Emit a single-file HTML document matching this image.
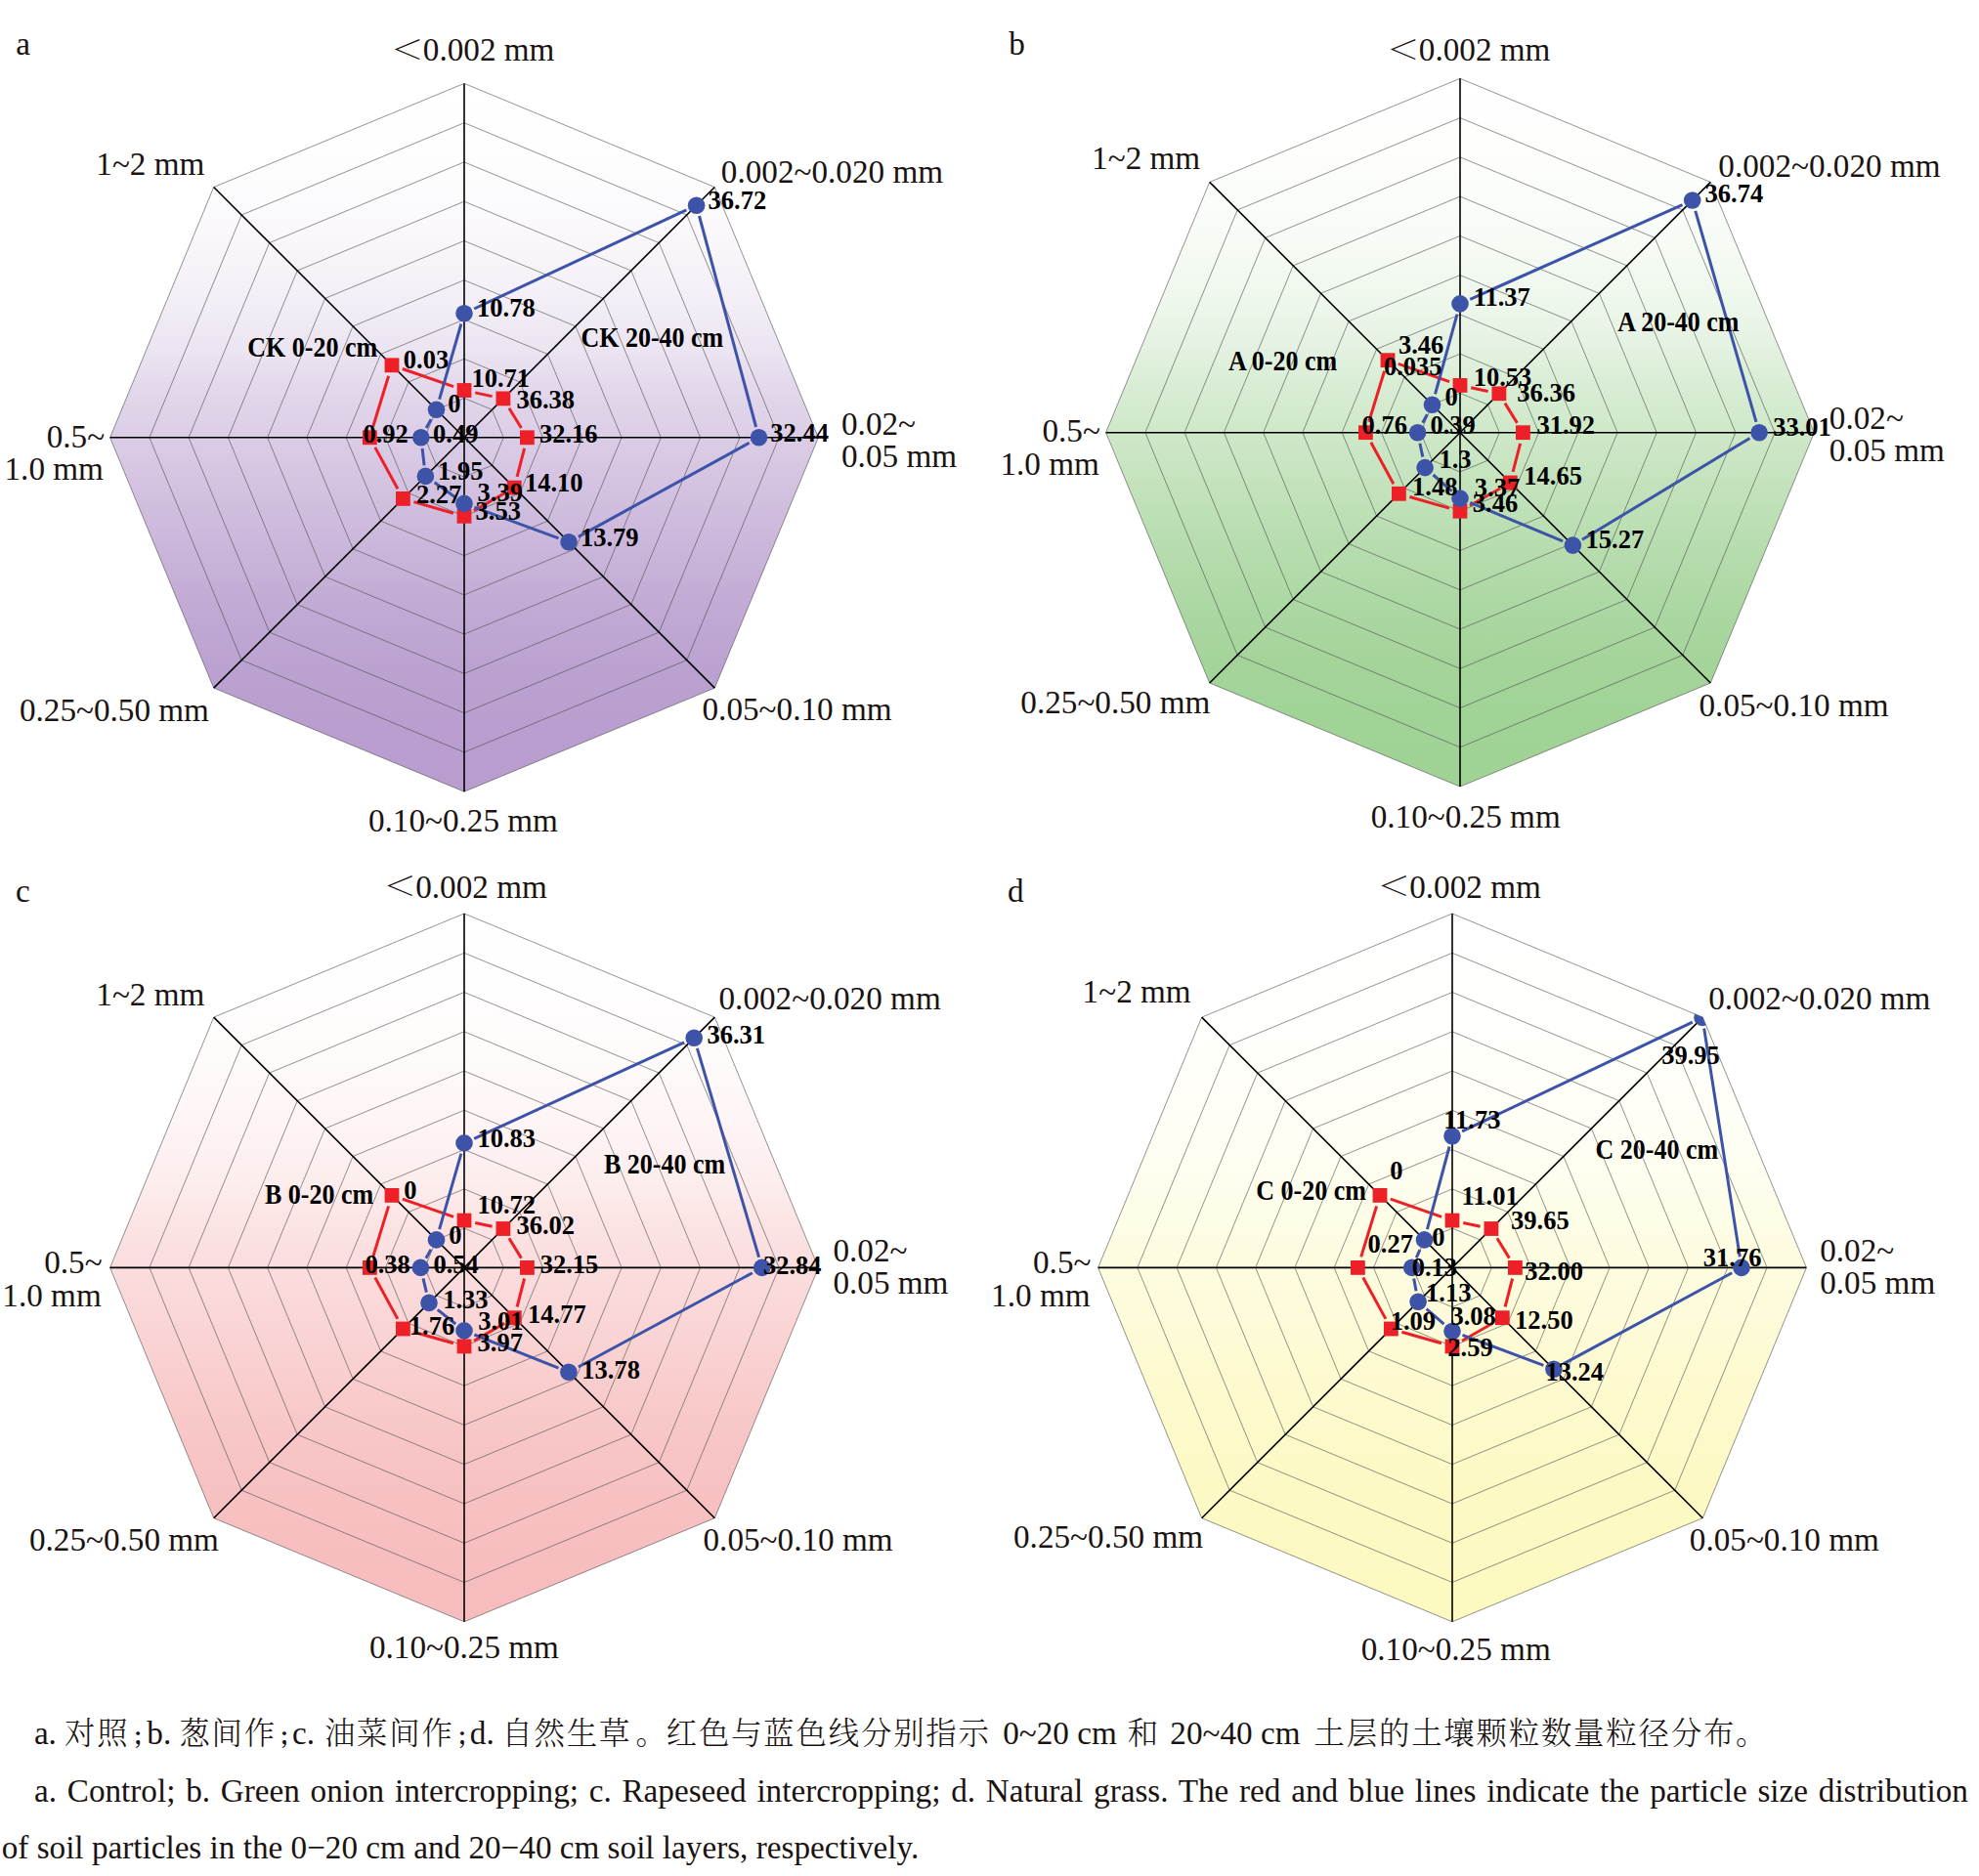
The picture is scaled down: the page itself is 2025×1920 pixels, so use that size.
<!DOCTYPE html>
<html lang="zh"><head><meta charset="utf-8"><title>Soil particle size distribution</title>
<style>
html,body{margin:0;padding:0;background:#fff;}
body{width:2025px;height:1920px;overflow:hidden;}
svg{display:block;}
svg text{font-family:"Liberation Serif","Noto Serif CJK SC",serif;fill:#1a1311;}
svg text[font-weight="bold"]{fill:#000;}
</style></head><body>
<svg width="2025" height="1920" viewBox="0 0 2025 1920">
<defs><linearGradient id="ga" x1="0" y1="0" x2="0" y2="1"><stop offset="0" stop-color="#FFFFFF"/><stop offset="0.1" stop-color="#FEFEFE"/><stop offset="0.21" stop-color="#FAF8FB"/><stop offset="0.3" stop-color="#F4EFF7"/><stop offset="0.38" stop-color="#EBE4F1"/><stop offset="0.435" stop-color="#E2D7EB"/><stop offset="0.5" stop-color="#DBCDE6"/><stop offset="0.57" stop-color="#D3C2E1"/><stop offset="0.655" stop-color="#CAB6DA"/><stop offset="0.74" stop-color="#C1AAD4"/><stop offset="0.82" stop-color="#BCA2D1"/><stop offset="0.9" stop-color="#B99ECF"/><stop offset="1" stop-color="#B89DCE"/></linearGradient>
<clipPath id="ca"><polygon points="475.0,85.4 731.3,191.5 837.4,447.8 731.3,704.1 475.0,810.2 218.7,704.1 112.6,447.8 218.7,191.5"/></clipPath></defs>
<polygon points="475.0,85.4 731.3,191.5 837.4,447.8 731.3,704.1 475.0,810.2 218.7,704.1 112.6,447.8 218.7,191.5" fill="url(#ga)"/>
<polygon points="475.0,407.5 503.5,419.3 515.3,447.8 503.5,476.3 475.0,488.1 446.5,476.3 434.7,447.8 446.5,419.3" fill="none" stroke="#4a4a4a" stroke-width="0.6"/>
<polygon points="475.0,367.3 531.9,390.9 555.5,447.8 531.9,504.7 475.0,528.3 418.1,504.7 394.5,447.8 418.1,390.9" fill="none" stroke="#4a4a4a" stroke-width="0.6"/>
<polygon points="475.0,327.0 560.4,362.4 595.8,447.8 560.4,533.2 475.0,568.6 389.6,533.2 354.2,447.8 389.6,362.4" fill="none" stroke="#4a4a4a" stroke-width="0.6"/>
<polygon points="475.0,286.7 588.9,333.9 636.1,447.8 588.9,561.7 475.0,608.9 361.1,561.7 313.9,447.8 361.1,333.9" fill="none" stroke="#4a4a4a" stroke-width="0.6"/>
<polygon points="475.0,246.5 617.4,305.4 676.3,447.8 617.4,590.2 475.0,649.1 332.6,590.2 273.7,447.8 332.6,305.4" fill="none" stroke="#4a4a4a" stroke-width="0.6"/>
<polygon points="475.0,206.2 645.8,277.0 716.6,447.8 645.8,618.6 475.0,689.4 304.2,618.6 233.4,447.8 304.2,277.0" fill="none" stroke="#4a4a4a" stroke-width="0.6"/>
<polygon points="475.0,165.9 674.3,248.5 756.9,447.8 674.3,647.1 475.0,729.7 275.7,647.1 193.1,447.8 275.7,248.5" fill="none" stroke="#4a4a4a" stroke-width="0.6"/>
<polygon points="475.0,125.7 702.8,220.0 797.1,447.8 702.8,675.6 475.0,769.9 247.2,675.6 152.9,447.8 247.2,220.0" fill="none" stroke="#4a4a4a" stroke-width="0.6"/>
<polygon points="475.0,85.4 731.3,191.5 837.4,447.8 731.3,704.1 475.0,810.2 218.7,704.1 112.6,447.8 218.7,191.5" fill="none" stroke="#4a4a4a" stroke-width="0.6"/>
<line x1="475.0" y1="447.8" x2="475.0" y2="85.4" stroke="#000" stroke-width="1.6"/>
<line x1="475.0" y1="447.8" x2="731.3" y2="191.5" stroke="#000" stroke-width="1.6"/>
<line x1="475.0" y1="447.8" x2="837.4" y2="447.8" stroke="#000" stroke-width="1.6"/>
<line x1="475.0" y1="447.8" x2="731.3" y2="704.1" stroke="#000" stroke-width="1.6"/>
<line x1="475.0" y1="447.8" x2="475.0" y2="810.2" stroke="#000" stroke-width="1.6"/>
<line x1="475.0" y1="447.8" x2="218.7" y2="704.1" stroke="#000" stroke-width="1.6"/>
<line x1="475.0" y1="447.8" x2="112.6" y2="447.8" stroke="#000" stroke-width="1.6"/>
<line x1="475.0" y1="447.8" x2="218.7" y2="191.5" stroke="#000" stroke-width="1.6"/>
<line x1="486.2" y1="401.9" x2="503.6" y2="405.6" stroke="#EC2026" stroke-width="3"/>
<line x1="520.9" y1="417.7" x2="533.4" y2="438.0" stroke="#EC2026" stroke-width="3"/>
<line x1="536.6" y1="458.9" x2="529.1" y2="487.9" stroke="#EC2026" stroke-width="3"/>
<line x1="516.3" y1="504.8" x2="485.0" y2="522.6" stroke="#EC2026" stroke-width="3"/>
<line x1="463.9" y1="525.2" x2="423.4" y2="513.6" stroke="#EC2026" stroke-width="3"/>
<line x1="406.9" y1="500.3" x2="383.8" y2="457.9" stroke="#EC2026" stroke-width="3"/>
<line x1="381.7" y1="436.8" x2="397.6" y2="384.8" stroke="#EC2026" stroke-width="3"/>
<line x1="411.8" y1="377.5" x2="464.1" y2="395.7" stroke="#EC2026" stroke-width="3"/>
<rect x="467.6" y="392.1" width="14.8" height="14.8" fill="#EC2026"/>
<rect x="507.5" y="400.5" width="14.8" height="14.8" fill="#EC2026"/>
<rect x="532.0" y="440.4" width="14.8" height="14.8" fill="#EC2026"/>
<rect x="518.9" y="491.7" width="14.8" height="14.8" fill="#EC2026"/>
<rect x="467.6" y="520.9" width="14.8" height="14.8" fill="#EC2026"/>
<rect x="405.0" y="503.0" width="14.8" height="14.8" fill="#EC2026"/>
<rect x="371.0" y="440.4" width="14.8" height="14.8" fill="#EC2026"/>
<rect x="393.6" y="366.4" width="14.8" height="14.8" fill="#EC2026"/>
<line x1="485.2" y1="316.0" x2="702.4" y2="214.9" stroke="#3C53A8" stroke-width="3"/>
<line x1="715.5" y1="221.0" x2="773.6" y2="437.0" stroke="#3C53A8" stroke-width="3"/>
<line x1="766.7" y1="453.2" x2="591.8" y2="549.4" stroke="#3C53A8" stroke-width="3"/>
<line x1="571.5" y1="550.9" x2="485.5" y2="519.2" stroke="#3C53A8" stroke-width="3"/>
<line x1="465.9" y1="508.9" x2="444.6" y2="493.8" stroke="#3C53A8" stroke-width="3"/>
<line x1="434.1" y1="476.3" x2="432.1" y2="458.9" stroke="#3C53A8" stroke-width="3"/>
<line x1="436.2" y1="438.0" x2="441.1" y2="429.1" stroke="#3C53A8" stroke-width="3"/>
<line x1="449.6" y1="408.6" x2="471.9" y2="331.5" stroke="#3C53A8" stroke-width="3"/>
<g clip-path="url(#ca)">
<circle cx="475.0" cy="320.7" r="8.8" fill="#3C53A8"/>
<circle cx="712.6" cy="210.2" r="8.8" fill="#3C53A8"/>
<circle cx="776.5" cy="447.8" r="8.8" fill="#3C53A8"/>
<circle cx="582.0" cy="554.8" r="8.8" fill="#3C53A8"/>
<circle cx="475.0" cy="515.4" r="8.8" fill="#3C53A8"/>
<circle cx="435.4" cy="487.4" r="8.8" fill="#3C53A8"/>
<circle cx="430.8" cy="447.8" r="8.8" fill="#3C53A8"/>
<circle cx="446.5" cy="419.3" r="8.8" fill="#3C53A8"/>
</g>
<text transform="translate(488.1,324.2) scale(1,1.06)" font-size="26.5" font-weight="bold">10.78</text>
<text transform="translate(412.8,376.7) scale(1,1.06)" font-size="26.5" font-weight="bold">0.03</text>
<text transform="translate(482.5,396.3) scale(1,1.06)" font-size="26.5" font-weight="bold">10.71</text>
<text transform="translate(528.4,417.7) scale(1,1.06)" font-size="26.5" font-weight="bold">36.38</text>
<text transform="translate(458.3,422.2) scale(1,1.06)" font-size="26.5" font-weight="bold">0</text>
<text transform="translate(371.4,452.5) scale(1,1.06)" font-size="26.5" font-weight="bold">0.92</text>
<text transform="translate(443.1,452.5) scale(1,1.06)" font-size="26.5" font-weight="bold">0.49</text>
<text transform="translate(551.9,452.5) scale(1,1.06)" font-size="26.5" font-weight="bold">32.16</text>
<text transform="translate(448.1,490.9) scale(1,1.06)" font-size="26.5" font-weight="bold">1.95</text>
<text transform="translate(537.0,503.0) scale(1,1.06)" font-size="26.5" font-weight="bold">14.10</text>
<text transform="translate(425.9,514.7) scale(1,1.06)" font-size="26.5" font-weight="bold">2.27</text>
<text transform="translate(488.6,513.1) scale(1,1.06)" font-size="26.5" font-weight="bold">3.39</text>
<text transform="translate(486.6,532.3) scale(1,1.06)" font-size="26.5" font-weight="bold">3.53</text>
<text transform="translate(594.0,558.6) scale(1,1.06)" font-size="26.5" font-weight="bold">13.79</text>
<text transform="translate(253.3,364.7) scale(1,1.1)" font-size="26" font-weight="bold">CK 0-20 cm</text>
<text transform="translate(724.6,214.1) scale(1,1.06)" font-size="26.5" font-weight="bold">36.72</text>
<text transform="translate(594.4,355.2) scale(1,1.1)" font-size="26" font-weight="bold">CK 20-40 cm</text>
<text transform="translate(788.3,452.3) scale(1,1.06)" font-size="26.5" font-weight="bold">32.44</text>
<text x="432.8" y="61.9" font-size="33.2">0.002 mm</text>
<text x="737.8" y="186.7" font-size="33.2">0.002~0.020 mm</text>
<text x="861.0" y="445.0" font-size="33.2">0.02~</text>
<text x="861.0" y="477.9" font-size="33.2">0.05 mm</text>
<text x="718.5" y="736.8" font-size="33.2">0.05~0.10 mm</text>
<text x="376.9" y="851.1" font-size="33.2">0.10~0.25 mm</text>
<text x="19.9" y="738.0" font-size="33.2">0.25~0.50 mm</text>
<text x="47.7" y="457.8" font-size="33.2">0.5~</text>
<text x="4.5" y="491.2" font-size="33.2">1.0 mm</text>
<text x="98.3" y="179.0" font-size="33.2">1~2 mm</text>
<text x="16.2" y="56.0" font-size="33.2">a</text>
<text transform="translate(399.8,60.8) scale(1.02,0.83)" font-size="33.2" font-family="'Liberation Serif','Noto Serif CJK SC',serif" font-weight="300">＜</text>
<defs><linearGradient id="gb" x1="0" y1="0" x2="0" y2="1"><stop offset="0" stop-color="#FFFFFF"/><stop offset="0.1" stop-color="#FEFEFD"/><stop offset="0.21" stop-color="#F8FCF7"/><stop offset="0.3" stop-color="#F0F8EE"/><stop offset="0.38" stop-color="#E4F2E1"/><stop offset="0.435" stop-color="#D8EDD4"/><stop offset="0.5" stop-color="#CFE8C9"/><stop offset="0.57" stop-color="#C4E3BD"/><stop offset="0.655" stop-color="#B8DDB0"/><stop offset="0.74" stop-color="#ACD8A3"/><stop offset="0.82" stop-color="#A5D49B"/><stop offset="0.9" stop-color="#A1D397"/><stop offset="1" stop-color="#A0D295"/></linearGradient>
<clipPath id="cb"><polygon points="1494.0,80.3 1750.3,186.4 1856.4,442.7 1750.3,699.0 1494.0,805.1 1237.7,699.0 1131.6,442.7 1237.7,186.4"/></clipPath></defs>
<polygon points="1494.0,80.3 1750.3,186.4 1856.4,442.7 1750.3,699.0 1494.0,805.1 1237.7,699.0 1131.6,442.7 1237.7,186.4" fill="url(#gb)"/>
<polygon points="1494.0,402.4 1522.5,414.2 1534.3,442.7 1522.5,471.2 1494.0,483.0 1465.5,471.2 1453.7,442.7 1465.5,414.2" fill="none" stroke="#4a4a4a" stroke-width="0.6"/>
<polygon points="1494.0,362.2 1550.9,385.8 1574.5,442.7 1550.9,499.6 1494.0,523.2 1437.1,499.6 1413.5,442.7 1437.1,385.8" fill="none" stroke="#4a4a4a" stroke-width="0.6"/>
<polygon points="1494.0,321.9 1579.4,357.3 1614.8,442.7 1579.4,528.1 1494.0,563.5 1408.6,528.1 1373.2,442.7 1408.6,357.3" fill="none" stroke="#4a4a4a" stroke-width="0.6"/>
<polygon points="1494.0,281.6 1607.9,328.8 1655.1,442.7 1607.9,556.6 1494.0,603.8 1380.1,556.6 1332.9,442.7 1380.1,328.8" fill="none" stroke="#4a4a4a" stroke-width="0.6"/>
<polygon points="1494.0,241.4 1636.4,300.3 1695.3,442.7 1636.4,585.1 1494.0,644.0 1351.6,585.1 1292.7,442.7 1351.6,300.3" fill="none" stroke="#4a4a4a" stroke-width="0.6"/>
<polygon points="1494.0,201.1 1664.8,271.9 1735.6,442.7 1664.8,613.5 1494.0,684.3 1323.2,613.5 1252.4,442.7 1323.2,271.9" fill="none" stroke="#4a4a4a" stroke-width="0.6"/>
<polygon points="1494.0,160.8 1693.3,243.4 1775.9,442.7 1693.3,642.0 1494.0,724.6 1294.7,642.0 1212.1,442.7 1294.7,243.4" fill="none" stroke="#4a4a4a" stroke-width="0.6"/>
<polygon points="1494.0,120.6 1721.8,214.9 1816.1,442.7 1721.8,670.5 1494.0,764.8 1266.2,670.5 1171.9,442.7 1266.2,214.9" fill="none" stroke="#4a4a4a" stroke-width="0.6"/>
<polygon points="1494.0,80.3 1750.3,186.4 1856.4,442.7 1750.3,699.0 1494.0,805.1 1237.7,699.0 1131.6,442.7 1237.7,186.4" fill="none" stroke="#4a4a4a" stroke-width="0.6"/>
<line x1="1494.0" y1="442.7" x2="1494.0" y2="80.3" stroke="#000" stroke-width="1.6"/>
<line x1="1494.0" y1="442.7" x2="1750.3" y2="186.4" stroke="#000" stroke-width="1.6"/>
<line x1="1494.0" y1="442.7" x2="1856.4" y2="442.7" stroke="#000" stroke-width="1.6"/>
<line x1="1494.0" y1="442.7" x2="1750.3" y2="699.0" stroke="#000" stroke-width="1.6"/>
<line x1="1494.0" y1="442.7" x2="1494.0" y2="805.1" stroke="#000" stroke-width="1.6"/>
<line x1="1494.0" y1="442.7" x2="1237.7" y2="699.0" stroke="#000" stroke-width="1.6"/>
<line x1="1494.0" y1="442.7" x2="1131.6" y2="442.7" stroke="#000" stroke-width="1.6"/>
<line x1="1494.0" y1="442.7" x2="1237.7" y2="186.4" stroke="#000" stroke-width="1.6"/>
<line x1="1505.2" y1="396.8" x2="1522.6" y2="400.5" stroke="#EC2026" stroke-width="3"/>
<line x1="1539.9" y1="412.6" x2="1552.4" y2="432.9" stroke="#EC2026" stroke-width="3"/>
<line x1="1555.6" y1="453.8" x2="1548.1" y2="482.8" stroke="#EC2026" stroke-width="3"/>
<line x1="1535.3" y1="499.7" x2="1504.0" y2="517.5" stroke="#EC2026" stroke-width="3"/>
<line x1="1482.9" y1="520.1" x2="1442.4" y2="508.5" stroke="#EC2026" stroke-width="3"/>
<line x1="1425.9" y1="495.2" x2="1402.8" y2="452.8" stroke="#EC2026" stroke-width="3"/>
<line x1="1400.7" y1="431.7" x2="1416.6" y2="379.7" stroke="#EC2026" stroke-width="3"/>
<line x1="1430.8" y1="372.4" x2="1483.1" y2="390.6" stroke="#EC2026" stroke-width="3"/>
<rect x="1486.6" y="387.0" width="14.8" height="14.8" fill="#EC2026"/>
<rect x="1526.5" y="395.4" width="14.8" height="14.8" fill="#EC2026"/>
<rect x="1551.0" y="435.3" width="14.8" height="14.8" fill="#EC2026"/>
<rect x="1537.9" y="486.6" width="14.8" height="14.8" fill="#EC2026"/>
<rect x="1486.6" y="515.8" width="14.8" height="14.8" fill="#EC2026"/>
<rect x="1424.0" y="497.9" width="14.8" height="14.8" fill="#EC2026"/>
<rect x="1390.0" y="435.3" width="14.8" height="14.8" fill="#EC2026"/>
<rect x="1412.6" y="361.3" width="14.8" height="14.8" fill="#EC2026"/>
<line x1="1504.2" y1="306.3" x2="1721.5" y2="209.6" stroke="#3C53A8" stroke-width="3"/>
<line x1="1734.8" y1="215.8" x2="1797.0" y2="431.9" stroke="#3C53A8" stroke-width="3"/>
<line x1="1790.5" y1="448.5" x2="1619.0" y2="552.3" stroke="#3C53A8" stroke-width="3"/>
<line x1="1599.1" y1="553.8" x2="1504.3" y2="514.4" stroke="#3C53A8" stroke-width="3"/>
<line x1="1485.6" y1="502.7" x2="1466.5" y2="486.0" stroke="#3C53A8" stroke-width="3"/>
<line x1="1455.8" y1="467.6" x2="1452.9" y2="453.7" stroke="#3C53A8" stroke-width="3"/>
<line x1="1455.8" y1="432.8" x2="1460.3" y2="424.1" stroke="#3C53A8" stroke-width="3"/>
<line x1="1468.5" y1="403.4" x2="1491.0" y2="321.7" stroke="#3C53A8" stroke-width="3"/>
<g clip-path="url(#cb)">
<circle cx="1494.0" cy="310.9" r="8.8" fill="#3C53A8"/>
<circle cx="1731.7" cy="205.0" r="8.8" fill="#3C53A8"/>
<circle cx="1800.1" cy="442.7" r="8.8" fill="#3C53A8"/>
<circle cx="1609.4" cy="558.1" r="8.8" fill="#3C53A8"/>
<circle cx="1494.0" cy="510.1" r="8.8" fill="#3C53A8"/>
<circle cx="1458.1" cy="478.6" r="8.8" fill="#3C53A8"/>
<circle cx="1450.6" cy="442.7" r="8.8" fill="#3C53A8"/>
<circle cx="1465.5" cy="414.2" r="8.8" fill="#3C53A8"/>
</g>
<text transform="translate(1507.7,313.1) scale(1,1.06)" font-size="26.5" font-weight="bold">11.37</text>
<text transform="translate(1431.0,361.7) scale(1,1.06)" font-size="26.5" font-weight="bold">3.46</text>
<text transform="translate(1415.9,383.9) scale(1,1.06)" font-size="26.5" font-weight="bold">0.035</text>
<text transform="translate(1507.7,395.0) scale(1,1.06)" font-size="26.5" font-weight="bold">10.53</text>
<text transform="translate(1552.3,411.2) scale(1,1.06)" font-size="26.5" font-weight="bold">36.36</text>
<text transform="translate(1478.5,415.2) scale(1,1.06)" font-size="26.5" font-weight="bold">0</text>
<text transform="translate(1393.6,444.1) scale(1,1.06)" font-size="26.5" font-weight="bold">0.76</text>
<text transform="translate(1463.4,444.1) scale(1,1.06)" font-size="26.5" font-weight="bold">0.39</text>
<text transform="translate(1572.5,444.1) scale(1,1.06)" font-size="26.5" font-weight="bold">31.92</text>
<text transform="translate(1472.4,478.9) scale(1,1.06)" font-size="26.5" font-weight="bold">1.3</text>
<text transform="translate(1559.3,495.5) scale(1,1.06)" font-size="26.5" font-weight="bold">14.65</text>
<text transform="translate(1445.1,507.2) scale(1,1.06)" font-size="26.5" font-weight="bold">1.48</text>
<text transform="translate(1508.8,507.6) scale(1,1.06)" font-size="26.5" font-weight="bold">3.37</text>
<text transform="translate(1506.8,524.4) scale(1,1.06)" font-size="26.5" font-weight="bold">3.46</text>
<text transform="translate(1257.0,378.9) scale(1,1.1)" font-size="26" font-weight="bold">A 0-20 cm</text>
<text transform="translate(1622.6,560.5) scale(1,1.06)" font-size="26.5" font-weight="bold">15.27</text>
<text transform="translate(1744.6,207.4) scale(1,1.06)" font-size="26.5" font-weight="bold">36.74</text>
<text transform="translate(1655.3,339.2) scale(1,1.1)" font-size="26" font-weight="bold">A 20-40 cm</text>
<text transform="translate(1814.2,445.7) scale(1,1.06)" font-size="26.5" font-weight="bold">33.01</text>
<text x="1451.8" y="61.9" font-size="33.2">0.002 mm</text>
<text x="1758.3" y="180.5" font-size="33.2">0.002~0.020 mm</text>
<text x="1871.8" y="439.0" font-size="33.2">0.02~</text>
<text x="1871.8" y="471.8" font-size="33.2">0.05 mm</text>
<text x="1738.5" y="733.0" font-size="33.2">0.05~0.10 mm</text>
<text x="1402.7" y="847.4" font-size="33.2">0.10~0.25 mm</text>
<text x="1044.3" y="730.2" font-size="33.2">0.25~0.50 mm</text>
<text x="1066.4" y="452.2" font-size="33.2">0.5~</text>
<text x="1023.4" y="485.6" font-size="33.2">1.0 mm</text>
<text x="1117.1" y="173.4" font-size="33.2">1~2 mm</text>
<text x="1032.2" y="55.6" font-size="33.2">b</text>
<text transform="translate(1418.8,60.8) scale(1.02,0.83)" font-size="33.2" font-family="'Liberation Serif','Noto Serif CJK SC',serif" font-weight="300">＜</text>
<defs><linearGradient id="gc" x1="0" y1="0" x2="0" y2="1"><stop offset="0" stop-color="#FFFFFF"/><stop offset="0.1" stop-color="#FFFEFE"/><stop offset="0.21" stop-color="#FEFAFA"/><stop offset="0.3" stop-color="#FEF4F5"/><stop offset="0.38" stop-color="#FDEDED"/><stop offset="0.435" stop-color="#FCE4E4"/><stop offset="0.5" stop-color="#FBDDDE"/><stop offset="0.57" stop-color="#FAD6D7"/><stop offset="0.655" stop-color="#F9CECE"/><stop offset="0.74" stop-color="#F8C6C6"/><stop offset="0.82" stop-color="#F7C1C2"/><stop offset="0.9" stop-color="#F7BEBF"/><stop offset="1" stop-color="#F7BDBE"/></linearGradient>
<clipPath id="cc"><polygon points="475.0,935.0 731.3,1041.1 837.4,1297.4 731.3,1553.7 475.0,1659.8 218.7,1553.7 112.6,1297.4 218.7,1041.1"/></clipPath></defs>
<polygon points="475.0,935.0 731.3,1041.1 837.4,1297.4 731.3,1553.7 475.0,1659.8 218.7,1553.7 112.6,1297.4 218.7,1041.1" fill="url(#gc)"/>
<polygon points="475.0,1257.1 503.5,1268.9 515.3,1297.4 503.5,1325.9 475.0,1337.7 446.5,1325.9 434.7,1297.4 446.5,1268.9" fill="none" stroke="#4a4a4a" stroke-width="0.6"/>
<polygon points="475.0,1216.9 531.9,1240.5 555.5,1297.4 531.9,1354.3 475.0,1377.9 418.1,1354.3 394.5,1297.4 418.1,1240.5" fill="none" stroke="#4a4a4a" stroke-width="0.6"/>
<polygon points="475.0,1176.6 560.4,1212.0 595.8,1297.4 560.4,1382.8 475.0,1418.2 389.6,1382.8 354.2,1297.4 389.6,1212.0" fill="none" stroke="#4a4a4a" stroke-width="0.6"/>
<polygon points="475.0,1136.3 588.9,1183.5 636.1,1297.4 588.9,1411.3 475.0,1458.5 361.1,1411.3 313.9,1297.4 361.1,1183.5" fill="none" stroke="#4a4a4a" stroke-width="0.6"/>
<polygon points="475.0,1096.1 617.4,1155.0 676.3,1297.4 617.4,1439.8 475.0,1498.7 332.6,1439.8 273.7,1297.4 332.6,1155.0" fill="none" stroke="#4a4a4a" stroke-width="0.6"/>
<polygon points="475.0,1055.8 645.8,1126.6 716.6,1297.4 645.8,1468.2 475.0,1539.0 304.2,1468.2 233.4,1297.4 304.2,1126.6" fill="none" stroke="#4a4a4a" stroke-width="0.6"/>
<polygon points="475.0,1015.5 674.3,1098.1 756.9,1297.4 674.3,1496.7 475.0,1579.3 275.7,1496.7 193.1,1297.4 275.7,1098.1" fill="none" stroke="#4a4a4a" stroke-width="0.6"/>
<polygon points="475.0,975.3 702.8,1069.6 797.1,1297.4 702.8,1525.2 475.0,1619.5 247.2,1525.2 152.9,1297.4 247.2,1069.6" fill="none" stroke="#4a4a4a" stroke-width="0.6"/>
<polygon points="475.0,935.0 731.3,1041.1 837.4,1297.4 731.3,1553.7 475.0,1659.8 218.7,1553.7 112.6,1297.4 218.7,1041.1" fill="none" stroke="#4a4a4a" stroke-width="0.6"/>
<line x1="475.0" y1="1297.4" x2="475.0" y2="935.0" stroke="#000" stroke-width="1.6"/>
<line x1="475.0" y1="1297.4" x2="731.3" y2="1041.1" stroke="#000" stroke-width="1.6"/>
<line x1="475.0" y1="1297.4" x2="837.4" y2="1297.4" stroke="#000" stroke-width="1.6"/>
<line x1="475.0" y1="1297.4" x2="731.3" y2="1553.7" stroke="#000" stroke-width="1.6"/>
<line x1="475.0" y1="1297.4" x2="475.0" y2="1659.8" stroke="#000" stroke-width="1.6"/>
<line x1="475.0" y1="1297.4" x2="218.7" y2="1553.7" stroke="#000" stroke-width="1.6"/>
<line x1="475.0" y1="1297.4" x2="112.6" y2="1297.4" stroke="#000" stroke-width="1.6"/>
<line x1="475.0" y1="1297.4" x2="218.7" y2="1041.1" stroke="#000" stroke-width="1.6"/>
<line x1="486.2" y1="1251.5" x2="503.6" y2="1255.2" stroke="#EC2026" stroke-width="3"/>
<line x1="520.9" y1="1267.3" x2="533.4" y2="1287.6" stroke="#EC2026" stroke-width="3"/>
<line x1="536.6" y1="1308.5" x2="529.1" y2="1337.5" stroke="#EC2026" stroke-width="3"/>
<line x1="516.3" y1="1354.4" x2="485.0" y2="1372.2" stroke="#EC2026" stroke-width="3"/>
<line x1="463.9" y1="1374.8" x2="423.4" y2="1363.2" stroke="#EC2026" stroke-width="3"/>
<line x1="406.9" y1="1349.9" x2="383.8" y2="1307.5" stroke="#EC2026" stroke-width="3"/>
<line x1="381.7" y1="1286.4" x2="397.6" y2="1234.4" stroke="#EC2026" stroke-width="3"/>
<line x1="411.8" y1="1227.1" x2="464.1" y2="1245.3" stroke="#EC2026" stroke-width="3"/>
<rect x="467.6" y="1241.7" width="14.8" height="14.8" fill="#EC2026"/>
<rect x="507.5" y="1250.1" width="14.8" height="14.8" fill="#EC2026"/>
<rect x="532.0" y="1290.0" width="14.8" height="14.8" fill="#EC2026"/>
<rect x="518.9" y="1341.3" width="14.8" height="14.8" fill="#EC2026"/>
<rect x="467.6" y="1370.5" width="14.8" height="14.8" fill="#EC2026"/>
<rect x="405.0" y="1352.6" width="14.8" height="14.8" fill="#EC2026"/>
<rect x="371.0" y="1290.0" width="14.8" height="14.8" fill="#EC2026"/>
<rect x="393.6" y="1216.0" width="14.8" height="14.8" fill="#EC2026"/>
<line x1="485.2" y1="1165.3" x2="700.1" y2="1066.8" stroke="#3C53A8" stroke-width="3"/>
<line x1="713.4" y1="1072.9" x2="776.6" y2="1286.7" stroke="#3C53A8" stroke-width="3"/>
<line x1="769.9" y1="1302.7" x2="591.8" y2="1399.0" stroke="#3C53A8" stroke-width="3"/>
<line x1="571.5" y1="1400.2" x2="485.4" y2="1366.0" stroke="#3C53A8" stroke-width="3"/>
<line x1="466.2" y1="1355.0" x2="447.7" y2="1340.4" stroke="#3C53A8" stroke-width="3"/>
<line x1="436.4" y1="1322.6" x2="433.0" y2="1308.3" stroke="#3C53A8" stroke-width="3"/>
<line x1="435.9" y1="1287.7" x2="441.0" y2="1278.7" stroke="#3C53A8" stroke-width="3"/>
<line x1="449.6" y1="1258.2" x2="471.9" y2="1180.7" stroke="#3C53A8" stroke-width="3"/>
<g clip-path="url(#cc)">
<circle cx="475.0" cy="1169.9" r="8.8" fill="#3C53A8"/>
<circle cx="710.2" cy="1062.2" r="8.8" fill="#3C53A8"/>
<circle cx="779.7" cy="1297.4" r="8.8" fill="#3C53A8"/>
<circle cx="581.9" cy="1404.3" r="8.8" fill="#3C53A8"/>
<circle cx="475.0" cy="1361.9" r="8.8" fill="#3C53A8"/>
<circle cx="439.0" cy="1333.4" r="8.8" fill="#3C53A8"/>
<circle cx="430.4" cy="1297.4" r="8.8" fill="#3C53A8"/>
<circle cx="446.5" cy="1268.9" r="8.8" fill="#3C53A8"/>
</g>
<text transform="translate(488.5,1174.2) scale(1,1.06)" font-size="26.5" font-weight="bold">10.83</text>
<text transform="translate(413.2,1226.7) scale(1,1.06)" font-size="26.5" font-weight="bold">0</text>
<text transform="translate(488.5,1242.3) scale(1,1.06)" font-size="26.5" font-weight="bold">10.72</text>
<text transform="translate(528.4,1263.1) scale(1,1.06)" font-size="26.5" font-weight="bold">36.02</text>
<text transform="translate(459.3,1273.2) scale(1,1.06)" font-size="26.5" font-weight="bold">0</text>
<text transform="translate(373.4,1302.9) scale(1,1.06)" font-size="26.5" font-weight="bold">0.38</text>
<text transform="translate(443.5,1302.9) scale(1,1.06)" font-size="26.5" font-weight="bold">0.54</text>
<text transform="translate(552.7,1302.9) scale(1,1.06)" font-size="26.5" font-weight="bold">32.15</text>
<text transform="translate(453.2,1338.9) scale(1,1.06)" font-size="26.5" font-weight="bold">1.33</text>
<text transform="translate(540.1,1354.0) scale(1,1.06)" font-size="26.5" font-weight="bold">14.77</text>
<text transform="translate(418.8,1365.6) scale(1,1.06)" font-size="26.5" font-weight="bold">1.76</text>
<text transform="translate(489.2,1361.1) scale(1,1.06)" font-size="26.5" font-weight="bold">3.01</text>
<text transform="translate(488.6,1383.4) scale(1,1.06)" font-size="26.5" font-weight="bold">3.97</text>
<text transform="translate(595.3,1410.6) scale(1,1.06)" font-size="26.5" font-weight="bold">13.78</text>
<text transform="translate(270.9,1232.3) scale(1,1.1)" font-size="26" font-weight="bold">B 0-20 cm</text>
<text transform="translate(723.5,1067.9) scale(1,1.06)" font-size="26.5" font-weight="bold">36.31</text>
<text transform="translate(617.9,1200.8) scale(1,1.1)" font-size="26" font-weight="bold">B 20-40 cm</text>
<text transform="translate(781.0,1303.6) scale(1,1.06)" font-size="26.5" font-weight="bold">32.84</text>
<text x="425.2" y="918.5" font-size="33.2">0.002 mm</text>
<text x="735.5" y="1032.9" font-size="33.2">0.002~0.020 mm</text>
<text x="852.4" y="1291.1" font-size="33.2">0.02~</text>
<text x="852.4" y="1323.9" font-size="33.2">0.05 mm</text>
<text x="719.5" y="1587.4" font-size="33.2">0.05~0.10 mm</text>
<text x="377.9" y="1697.0" font-size="33.2">0.10~0.25 mm</text>
<text x="29.9" y="1586.8" font-size="33.2">0.25~0.50 mm</text>
<text x="45.2" y="1303.4" font-size="33.2">0.5~</text>
<text x="2.3" y="1337.4" font-size="33.2">1.0 mm</text>
<text x="98.3" y="1029.0" font-size="33.2">1~2 mm</text>
<text x="16.1" y="922.9" font-size="33.2">c</text>
<text transform="translate(392.3,917.4) scale(1.02,0.83)" font-size="33.2" font-family="'Liberation Serif','Noto Serif CJK SC',serif" font-weight="300">＜</text>
<defs><linearGradient id="gd" x1="0" y1="0" x2="0" y2="1"><stop offset="0" stop-color="#FFFFFF"/><stop offset="0.1" stop-color="#FFFFFE"/><stop offset="0.21" stop-color="#FFFFFA"/><stop offset="0.3" stop-color="#FFFEF5"/><stop offset="0.38" stop-color="#FEFDEE"/><stop offset="0.435" stop-color="#FEFDE6"/><stop offset="0.5" stop-color="#FDFCDF"/><stop offset="0.57" stop-color="#FDFBD9"/><stop offset="0.655" stop-color="#FDFAD0"/><stop offset="0.74" stop-color="#FCFAC9"/><stop offset="0.82" stop-color="#FCF9C4"/><stop offset="0.9" stop-color="#FCF9C2"/><stop offset="1" stop-color="#FCF9C1"/></linearGradient>
<clipPath id="cd"><polygon points="1486.0,935.0 1742.3,1041.1 1848.4,1297.4 1742.3,1553.7 1486.0,1659.8 1229.7,1553.7 1123.6,1297.4 1229.7,1041.1"/></clipPath></defs>
<polygon points="1486.0,935.0 1742.3,1041.1 1848.4,1297.4 1742.3,1553.7 1486.0,1659.8 1229.7,1553.7 1123.6,1297.4 1229.7,1041.1" fill="url(#gd)"/>
<polygon points="1486.0,1257.1 1514.5,1268.9 1526.3,1297.4 1514.5,1325.9 1486.0,1337.7 1457.5,1325.9 1445.7,1297.4 1457.5,1268.9" fill="none" stroke="#4a4a4a" stroke-width="0.6"/>
<polygon points="1486.0,1216.9 1542.9,1240.5 1566.5,1297.4 1542.9,1354.3 1486.0,1377.9 1429.1,1354.3 1405.5,1297.4 1429.1,1240.5" fill="none" stroke="#4a4a4a" stroke-width="0.6"/>
<polygon points="1486.0,1176.6 1571.4,1212.0 1606.8,1297.4 1571.4,1382.8 1486.0,1418.2 1400.6,1382.8 1365.2,1297.4 1400.6,1212.0" fill="none" stroke="#4a4a4a" stroke-width="0.6"/>
<polygon points="1486.0,1136.3 1599.9,1183.5 1647.1,1297.4 1599.9,1411.3 1486.0,1458.5 1372.1,1411.3 1324.9,1297.4 1372.1,1183.5" fill="none" stroke="#4a4a4a" stroke-width="0.6"/>
<polygon points="1486.0,1096.1 1628.4,1155.0 1687.3,1297.4 1628.4,1439.8 1486.0,1498.7 1343.6,1439.8 1284.7,1297.4 1343.6,1155.0" fill="none" stroke="#4a4a4a" stroke-width="0.6"/>
<polygon points="1486.0,1055.8 1656.8,1126.6 1727.6,1297.4 1656.8,1468.2 1486.0,1539.0 1315.2,1468.2 1244.4,1297.4 1315.2,1126.6" fill="none" stroke="#4a4a4a" stroke-width="0.6"/>
<polygon points="1486.0,1015.5 1685.3,1098.1 1767.9,1297.4 1685.3,1496.7 1486.0,1579.3 1286.7,1496.7 1204.1,1297.4 1286.7,1098.1" fill="none" stroke="#4a4a4a" stroke-width="0.6"/>
<polygon points="1486.0,975.3 1713.8,1069.6 1808.1,1297.4 1713.8,1525.2 1486.0,1619.5 1258.2,1525.2 1163.9,1297.4 1258.2,1069.6" fill="none" stroke="#4a4a4a" stroke-width="0.6"/>
<polygon points="1486.0,935.0 1742.3,1041.1 1848.4,1297.4 1742.3,1553.7 1486.0,1659.8 1229.7,1553.7 1123.6,1297.4 1229.7,1041.1" fill="none" stroke="#4a4a4a" stroke-width="0.6"/>
<line x1="1486.0" y1="1297.4" x2="1486.0" y2="935.0" stroke="#000" stroke-width="1.6"/>
<line x1="1486.0" y1="1297.4" x2="1742.3" y2="1041.1" stroke="#000" stroke-width="1.6"/>
<line x1="1486.0" y1="1297.4" x2="1848.4" y2="1297.4" stroke="#000" stroke-width="1.6"/>
<line x1="1486.0" y1="1297.4" x2="1742.3" y2="1553.7" stroke="#000" stroke-width="1.6"/>
<line x1="1486.0" y1="1297.4" x2="1486.0" y2="1659.8" stroke="#000" stroke-width="1.6"/>
<line x1="1486.0" y1="1297.4" x2="1229.7" y2="1553.7" stroke="#000" stroke-width="1.6"/>
<line x1="1486.0" y1="1297.4" x2="1123.6" y2="1297.4" stroke="#000" stroke-width="1.6"/>
<line x1="1486.0" y1="1297.4" x2="1229.7" y2="1041.1" stroke="#000" stroke-width="1.6"/>
<line x1="1497.2" y1="1251.5" x2="1514.6" y2="1255.2" stroke="#EC2026" stroke-width="3"/>
<line x1="1531.9" y1="1267.3" x2="1544.4" y2="1287.6" stroke="#EC2026" stroke-width="3"/>
<line x1="1547.6" y1="1308.5" x2="1540.1" y2="1337.5" stroke="#EC2026" stroke-width="3"/>
<line x1="1527.3" y1="1354.4" x2="1496.0" y2="1372.2" stroke="#EC2026" stroke-width="3"/>
<line x1="1474.9" y1="1374.8" x2="1434.4" y2="1363.2" stroke="#EC2026" stroke-width="3"/>
<line x1="1417.9" y1="1349.9" x2="1394.8" y2="1307.5" stroke="#EC2026" stroke-width="3"/>
<line x1="1392.7" y1="1286.4" x2="1408.6" y2="1234.4" stroke="#EC2026" stroke-width="3"/>
<line x1="1422.8" y1="1227.1" x2="1475.1" y2="1245.3" stroke="#EC2026" stroke-width="3"/>
<rect x="1478.6" y="1241.7" width="14.8" height="14.8" fill="#EC2026"/>
<rect x="1518.5" y="1250.1" width="14.8" height="14.8" fill="#EC2026"/>
<rect x="1543.0" y="1290.0" width="14.8" height="14.8" fill="#EC2026"/>
<rect x="1529.9" y="1341.3" width="14.8" height="14.8" fill="#EC2026"/>
<rect x="1478.6" y="1370.5" width="14.8" height="14.8" fill="#EC2026"/>
<rect x="1416.0" y="1352.6" width="14.8" height="14.8" fill="#EC2026"/>
<rect x="1382.0" y="1290.0" width="14.8" height="14.8" fill="#EC2026"/>
<rect x="1404.6" y="1216.0" width="14.8" height="14.8" fill="#EC2026"/>
<line x1="1496.1" y1="1157.9" x2="1731.8" y2="1046.2" stroke="#3C53A8" stroke-width="3"/>
<line x1="1743.7" y1="1052.5" x2="1780.3" y2="1286.3" stroke="#3C53A8" stroke-width="3"/>
<line x1="1772.2" y1="1302.7" x2="1599.7" y2="1395.9" stroke="#3C53A8" stroke-width="3"/>
<line x1="1579.4" y1="1397.3" x2="1496.5" y2="1366.4" stroke="#3C53A8" stroke-width="3"/>
<line x1="1477.5" y1="1355.1" x2="1459.6" y2="1339.6" stroke="#3C53A8" stroke-width="3"/>
<line x1="1449.1" y1="1321.3" x2="1446.7" y2="1308.4" stroke="#3C53A8" stroke-width="3"/>
<line x1="1449.3" y1="1287.2" x2="1452.9" y2="1279.1" stroke="#3C53A8" stroke-width="3"/>
<line x1="1460.4" y1="1258.1" x2="1483.1" y2="1173.5" stroke="#3C53A8" stroke-width="3"/>
<g clip-path="url(#cd)">
<circle cx="1486.0" cy="1162.7" r="8.8" fill="#3C53A8"/>
<circle cx="1742.0" cy="1041.4" r="8.8" fill="#3C53A8"/>
<circle cx="1782.0" cy="1297.4" r="8.8" fill="#3C53A8"/>
<circle cx="1589.9" cy="1401.3" r="8.8" fill="#3C53A8"/>
<circle cx="1486.0" cy="1362.5" r="8.8" fill="#3C53A8"/>
<circle cx="1451.1" cy="1332.3" r="8.8" fill="#3C53A8"/>
<circle cx="1444.7" cy="1297.4" r="8.8" fill="#3C53A8"/>
<circle cx="1457.5" cy="1268.9" r="8.8" fill="#3C53A8"/>
</g>
<text transform="translate(1477.3,1155.0) scale(1,1.06)" font-size="26.5" font-weight="bold">11.73</text>
<text transform="translate(1422.2,1207.1) scale(1,1.06)" font-size="26.5" font-weight="bold">0</text>
<text transform="translate(1495.5,1232.8) scale(1,1.06)" font-size="26.5" font-weight="bold">11.01</text>
<text transform="translate(1546.1,1258.4) scale(1,1.06)" font-size="26.5" font-weight="bold">39.65</text>
<text transform="translate(1465.3,1275.2) scale(1,1.06)" font-size="26.5" font-weight="bold">0</text>
<text transform="translate(1399.6,1281.9) scale(1,1.06)" font-size="26.5" font-weight="bold">0.27</text>
<text transform="translate(1444.7,1306.1) scale(1,1.06)" font-size="26.5" font-weight="bold">0.13</text>
<text transform="translate(1560.3,1309.6) scale(1,1.06)" font-size="26.5" font-weight="bold">32.00</text>
<text transform="translate(1459.1,1331.8) scale(1,1.06)" font-size="26.5" font-weight="bold">1.13</text>
<text transform="translate(1550.1,1360.1) scale(1,1.06)" font-size="26.5" font-weight="bold">12.50</text>
<text transform="translate(1422.7,1361.1) scale(1,1.06)" font-size="26.5" font-weight="bold">1.09</text>
<text transform="translate(1484.5,1356.1) scale(1,1.06)" font-size="26.5" font-weight="bold">3.08</text>
<text transform="translate(1481.3,1388.4) scale(1,1.06)" font-size="26.5" font-weight="bold">2.59</text>
<text transform="translate(1581.4,1412.7) scale(1,1.06)" font-size="26.5" font-weight="bold">13.24</text>
<text transform="translate(1285.2,1227.8) scale(1,1.1)" font-size="26" font-weight="bold">C 0-20 cm</text>
<text transform="translate(1700.2,1088.5) scale(1,1.06)" font-size="26.5" font-weight="bold">39.95</text>
<text transform="translate(1632.5,1186.3) scale(1,1.1)" font-size="26" font-weight="bold">C 20-40 cm</text>
<text transform="translate(1742.8,1295.7) scale(1,1.06)" font-size="26.5" font-weight="bold">31.76</text>
<text x="1442.2" y="918.5" font-size="33.2">0.002 mm</text>
<text x="1748.2" y="1032.9" font-size="33.2">0.002~0.020 mm</text>
<text x="1862.2" y="1291.1" font-size="33.2">0.02~</text>
<text x="1862.2" y="1323.9" font-size="33.2">0.05 mm</text>
<text x="1728.8" y="1587.4" font-size="33.2">0.05~0.10 mm</text>
<text x="1392.7" y="1698.9" font-size="33.2">0.10~0.25 mm</text>
<text x="1037.0" y="1583.5" font-size="33.2">0.25~0.50 mm</text>
<text x="1057.0" y="1303.4" font-size="33.2">0.5~</text>
<text x="1014.1" y="1337.4" font-size="33.2">1.0 mm</text>
<text x="1107.6" y="1025.6" font-size="33.2">1~2 mm</text>
<text x="1031.0" y="922.9" font-size="33.2">d</text>
<text transform="translate(1409.3,917.4) scale(1.02,0.83)" font-size="33.2" font-family="'Liberation Serif','Noto Serif CJK SC',serif" font-weight="300">＜</text>
<text x="34.9" y="1785.0" font-size="33.2">a.</text>
<text x="66.0" y="1784.6" font-size="31.4" letter-spacing="1.80" font-family="'Liberation Serif','Noto Serif CJK SC',serif" font-weight="300">对照</text>
<text x="135.2" y="1784.6" font-size="22" letter-spacing="0.00" font-family="'Liberation Serif','Noto Serif CJK SC',serif" font-weight="700">；</text>
<text x="150.3" y="1785.0" font-size="33.2">b.</text>
<text x="183.3" y="1784.6" font-size="31.4" letter-spacing="1.80" font-family="'Liberation Serif','Noto Serif CJK SC',serif" font-weight="300">葱间作</text>
<text x="284.9" y="1784.6" font-size="22" letter-spacing="0.00" font-family="'Liberation Serif','Noto Serif CJK SC',serif" font-weight="700">；</text>
<text x="299.1" y="1785.0" font-size="33.2">c.</text>
<text x="331.9" y="1784.6" font-size="31.4" letter-spacing="1.80" font-family="'Liberation Serif','Noto Serif CJK SC',serif" font-weight="300">油菜间作</text>
<text x="467.1" y="1784.6" font-size="22" letter-spacing="0.00" font-family="'Liberation Serif','Noto Serif CJK SC',serif" font-weight="700">；</text>
<text x="480.8" y="1785.0" font-size="33.2">d.</text>
<text x="513.4" y="1784.6" font-size="31.4" letter-spacing="1.80" font-family="'Liberation Serif','Noto Serif CJK SC',serif" font-weight="300">自然生草</text>
<text x="650.4" y="1784.6" font-size="31.4" letter-spacing="1.80" font-family="'Liberation Serif','Noto Serif CJK SC',serif" font-weight="300">。</text>
<text x="681.8" y="1784.6" font-size="31.4" letter-spacing="1.80" font-family="'Liberation Serif','Noto Serif CJK SC',serif" font-weight="300">红色与蓝色线分别指示</text>
<text x="1026.2" y="1785.0" font-size="33.2">0~20 cm</text>
<text x="1153.8" y="1784.6" font-size="31.4" letter-spacing="1.80" font-family="'Liberation Serif','Noto Serif CJK SC',serif" font-weight="300">和</text>
<text x="1197.3" y="1785.0" font-size="33.2">20~40 cm</text>
<text x="1344.6" y="1784.6" font-size="31.4" letter-spacing="1.80" font-family="'Liberation Serif','Noto Serif CJK SC',serif" font-weight="300">土层的土壤颗粒数量粒径分布。</text>
<text x="35" y="1843.5" font-size="33.2" word-spacing="2.45">a. Control; b. Green onion intercropping; c. Rapeseed intercropping; d. Natural grass. The red and blue lines indicate the particle size distribution</text>
<text x="1.7" y="1902" font-size="33.2">of soil particles in the 0−20 cm and 20−40 cm soil layers, respectively.</text>
</svg>
</body></html>
